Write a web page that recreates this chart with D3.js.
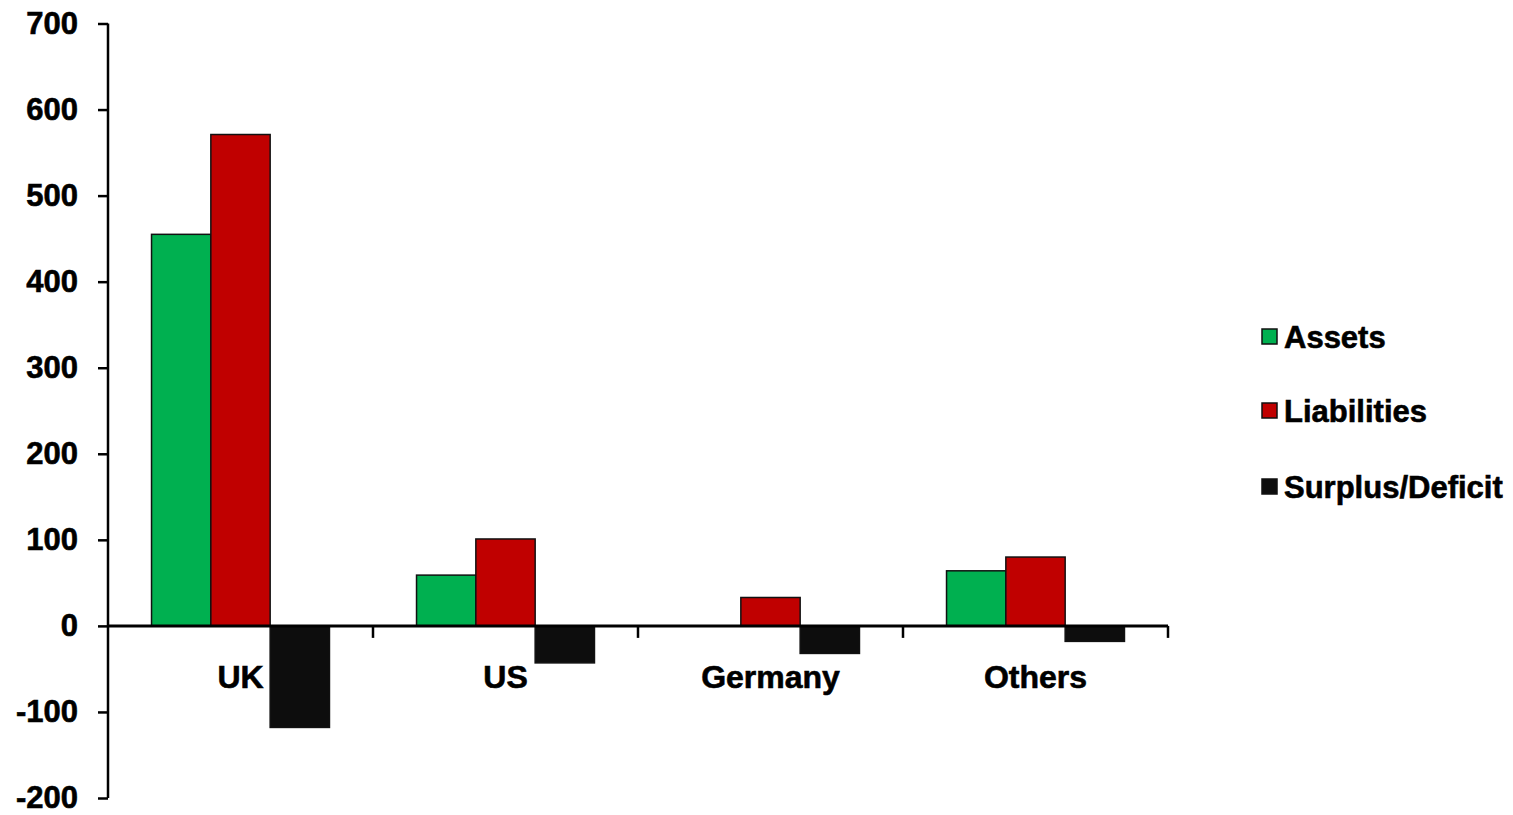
<!DOCTYPE html>
<html>
<head>
<meta charset="utf-8">
<script src="https://cdn.jsdelivr.net/npm/d3@7"></script>
<style>
  html, body { margin: 0; padding: 0; background: #fff; }
  svg { display: block; }
  text { font-family: "Liberation Sans", Arial, sans-serif; font-weight: bold; fill: #000; stroke: #000; stroke-width: 0.6px; }
</style>
</head>
<body>
<svg id="chart" width="1513" height="815"></svg>
<script>
// Categories and series
const categories = ["UK", "US", "Germany", "Others"];
const seriesNames = ["Assets", "Liabilities", "Surplus/Deficit"];
const assets = [455, 59, 0, 64];
const liabilities = [571, 101, 33, 80];
const surplus = [-118, -43, -32, -18];
const yTicks = [-200, -100, 0, 100, 200, 300, 400, 500, 600, 700];
const colors = ["#00b050", "#c00000", "#0d0d0d"];

const seriesValues = [assets, liabilities, surplus];

const svg = d3.select("#chart");

const plotLeft = 108, plotRight = 1168, plotTop = 23.5, plotBottom = 798;

const y = d3.scaleLinear().domain([-200, 700]).range([plotBottom, plotTop]);
const x0 = d3.scaleBand().domain(categories).range([plotLeft, plotRight]).padding(0);
const x1 = d3.scaleBand().domain(seriesNames).range([0, x0.bandwidth()])
  .paddingInner(0).paddingOuter(0.734);

// Bars
const groups = svg.append("g").selectAll("g")
  .data(categories)
  .join("g")
  .attr("transform", d => `translate(${x0(d)},0)`);

groups.selectAll("rect")
  .data((c, i) => seriesNames.map((s, k) => ({ s, k, v: seriesValues[k][i] })).filter(d => d.v !== 0))
  .join("rect")
  .attr("x", d => x1(d.s))
  .attr("width", x1.bandwidth())
  .attr("y", d => y(Math.max(0, d.v)))
  .attr("height", d => Math.abs(y(d.v) - y(0)))
  .attr("fill", d => colors[d.k])
  .attr("stroke", "#111")
  .attr("stroke-width", 1.5);

// Y axis (plain hyphen for negatives)
const yAxis = d3.axisLeft(y).tickValues(yTicks).tickSize(10).tickPadding(20)
  .tickFormat(d => String(d));
const gy = svg.append("g").attr("transform", `translate(${plotLeft},0)`).call(yAxis);
gy.select(".domain").attr("stroke", "#000").attr("stroke-width", 2.5)
  .attr("d", `M0,${plotTop}V${plotBottom}`);
gy.selectAll(".tick line").attr("stroke", "#000").attr("stroke-width", 2.5);
gy.selectAll(".tick text")
  .style("font-family", "'Liberation Sans', Arial, sans-serif")
  .style("font-weight", "bold")
  .style("font-size", "31px")
  .attr("fill", "#000");

// X axis along zero with ticks between categories
const xAxisLine = svg.append("g");
xAxisLine.append("line")
  .attr("x1", plotLeft).attr("x2", plotRight)
  .attr("y1", y(0)).attr("y2", y(0))
  .attr("stroke", "#000").attr("stroke-width", 3);
xAxisLine.selectAll("line.sep")
  .data(categories.slice(1).concat([null]))
  .join("line")
  .attr("class", "sep")
  .attr("x1", d => d === null ? plotRight : x0(d))
  .attr("x2", d => d === null ? plotRight : x0(d))
  .attr("y1", y(0)).attr("y2", y(0) + 12)
  .attr("stroke", "#000").attr("stroke-width", 2.5);

svg.append("g").selectAll("text")
  .data(categories)
  .join("text")
  .attr("x", d => x0(d) + x0.bandwidth() / 2)
  .attr("y", y(0) + 62)
  .attr("text-anchor", "middle")
  .style("font-size", "32px")
  .text(d => d);

// Legend
const legend = svg.append("g").attr("transform", "translate(1262,0)");
const legendY = [337, 411, 487];
seriesNames.forEach((s, k) => {
  legend.append("rect")
    .attr("x", 0).attr("y", legendY[k] - 8)
    .attr("width", 15).attr("height", 15)
    .attr("fill", colors[k]).attr("stroke", "#111").attr("stroke-width", 1.5);
  legend.append("text")
    .attr("x", 22).attr("y", legendY[k])
    .attr("dy", "0.35em")
    .style("font-size", "31px")
    .text(s);
});
</script>
</body>
</html>
